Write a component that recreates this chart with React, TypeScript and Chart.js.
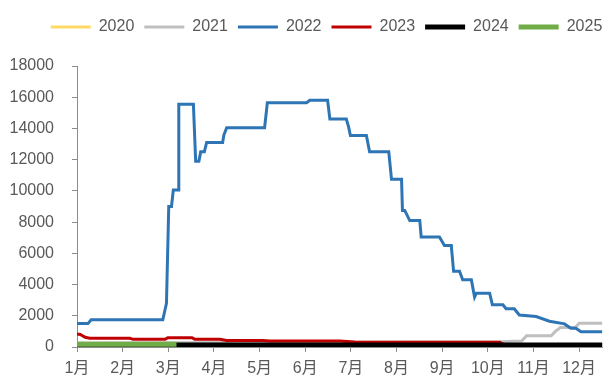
import { useEffect, useRef } from "react";
import { Chart, registerables } from "chart.js";

Chart.register(...registerables);

const monthLabels = ["1月", "2月", "3月", "4月", "5月", "6月", "7月", "8月", "9月", "10月", "11月", "12月"];
const seriesNames = ["2020", "2021", "2022", "2023", "2024", "2025"];

// x positions are in months since Jan 1 (0 = 1月, 11 = 12月)
const m2020: number[] = [];
const v2020: number[] = [];

const m2021 = [0, 9.26, 9.74, 9.85, 10.39, 10.48, 10.59, 10.92, 11.0, 11.51];
const v2021 = [250, 340, 380, 720, 720, 1000, 1250, 1250, 1520, 1520];

const m2022 = [
  0, 0.24, 0.31, 1.88, 1.93, 1.96, 2.01, 2.07, 2.11, 2.22, 2.23, 2.55, 2.6, 2.67, 2.71, 2.79, 2.84,
  3.19, 3.22, 3.28, 4.11, 4.17, 5.03, 5.1, 5.49, 5.54, 5.9, 5.95, 5.99, 6.34, 6.41, 6.83, 6.89,
  7.11, 7.13, 7.18, 7.29, 7.51, 7.54, 7.94, 8.05, 8.2, 8.25, 8.38, 8.45, 8.64, 8.71, 8.75, 9.04,
  9.1, 9.33, 9.4, 9.58, 9.69, 10.06, 10.35, 10.68, 10.82, 10.93, 11.04, 11.51,
];
const v2022 = [
  1500, 1500, 1750, 1750, 2400, 2800, 9000, 9000, 10050, 10050, 15550, 15550, 11900, 11900, 12500, 12500, 13100,
  13100, 13600, 14050, 14050, 15650, 15650, 15800, 15800, 14600, 14600, 14100, 13550, 13550, 12500, 12500, 10750,
  10750, 8750, 8750, 8100, 8100, 7050, 7050, 6500, 6500, 4850, 4850, 4300, 4300, 3200, 3450, 3450,
  2700, 2700, 2450, 2450, 2050, 1950, 1650, 1480, 1200, 1200, 980, 980,
];

const m2023 = [0, 0.07, 0.18, 0.28, 1.16, 1.23, 1.93, 1.99, 2.52, 2.58, 3.13, 3.28, 4.07, 4.22, 5.75, 6.08, 9.26, 9.35, 11.51];
const v2023 = [830, 800, 620, 560, 560, 490, 490, 600, 600, 490, 490, 420, 420, 380, 380, 320, 300, 150, 150];

const m2024 = [0, 3, 6, 9, 11.51];
const v2024 = [130, 130, 130, 130, 130];

const m2025 = [0, 1, 2, 2.18];
const v2025 = [170, 170, 170, 170];

const colors = ["#FFD966", "#BFBFBF", "#2E75B6", "#C00000", "#000000", "#70AD47"];
const widths = [3, 3, 3, 3, 5, 5];

const yTicks = [0, 2000, 4000, 6000, 8000, 10000, 12000, 14000, 16000, 18000];

const FONT = '"Liberation Sans", "Noto Sans CJK SC", sans-serif';
const TEXT = "#595959";
const AXIS = "#8C8C8C";

export default function App() {
  const ref = useRef<HTMLCanvasElement>(null);

  useEffect(() => {
    document.body.style.margin = "0";
    const pts = (m: number[], v: number[]) => m.map((x, i) => ({ x, y: v[i] }));
    const all = [
      [m2020, v2020],
      [m2021, v2021],
      [m2022, v2022],
      [m2023, v2023],
      [m2024, v2024],
      [m2025, v2025],
    ];
    const LEGEND_EXTRA = 21;
    const LEGEND_DX = 25;
    const legendFix = {
      id: "legendFix",
      beforeLayout(chart: any) {
        const lg = chart.legend;
        if (lg && !lg._patched) {
          const f = lg.fit;
          lg.fit = function () {
            f.call(this);
            this.height += LEGEND_EXTRA;
          };
          lg._patched = true;
        }
      },
      afterLayout(chart: any) {
        const lg = chart.legend;
        if (lg) {
          lg.left += LEGEND_DX;
          lg.right += LEGEND_DX;
        }
      },
    };

    const chart = new Chart(ref.current as HTMLCanvasElement, {
      type: "line",
      data: {
        datasets: seriesNames.map((name, i) => ({
          label: name,
          data: pts(all[i][0], all[i][1]),
          borderColor: colors[i],
          backgroundColor: colors[i],
          borderWidth: widths[i],
          pointRadius: 0,
          tension: 0,
          fill: false,
          order: seriesNames.length - 1 - i,
        })),
      },
      options: {
        animation: false,
        responsive: false,
        maintainAspectRatio: false,
        layout: { padding: { top: 9, left: 0, right: 0, bottom: 0 } },
        plugins: {
          tooltip: { enabled: false },
          legend: {
            display: true,
            position: "top",
            align: "center",
            labels: {
              usePointStyle: true,
              pointStyle: "line",
              pointStyleWidth: 40,
              padding: 10,
              color: TEXT,
              font: { family: FONT, size: 16 },
              sort: (a: any, b: any) => a.datasetIndex - b.datasetIndex,
            },
          },
        },
        scales: {
          x: {
            type: "linear",
            min: 0,
            max: 11.51,
            afterBuildTicks: (axis: any) => {
              axis.ticks = monthLabels.map((_, i) => ({ value: i }));
            },
            afterFit: (scale: any) => {
              scale.height = 30;
            },
            ticks: {
              color: TEXT,
              font: { family: FONT, size: 16 },
              padding: 7,
              maxRotation: 0,
              autoSkip: false,
              callback: (v: any) => monthLabels[Math.round(Number(v))],
            },
            grid: { display: true, drawOnChartArea: false, drawTicks: true, tickLength: 5, color: AXIS },
            border: { display: true, color: AXIS, width: 1 },
          },
          y: {
            type: "linear",
            min: 0,
            max: 18000,
            afterBuildTicks: (axis: any) => {
              axis.ticks = yTicks.map((v) => ({ value: v }));
            },
            afterFit: (scale: any) => {
              scale.width = 77;
            },
            ticks: {
              color: TEXT,
              font: { family: FONT, size: 16 },
              padding: 18,
              callback: (v: any) => String(v),
            },
            grid: { display: true, drawOnChartArea: false, drawTicks: true, tickLength: 5, color: AXIS },
            border: { display: true, color: AXIS, width: 1 },
          },
        },
      },
      plugins: [legendFix],
    } as any);
    return () => chart.destroy();
  }, []);

  return <canvas ref={ref} width={603} height={377} style={{ display: "block", width: 603, height: 377 }} />;
}
